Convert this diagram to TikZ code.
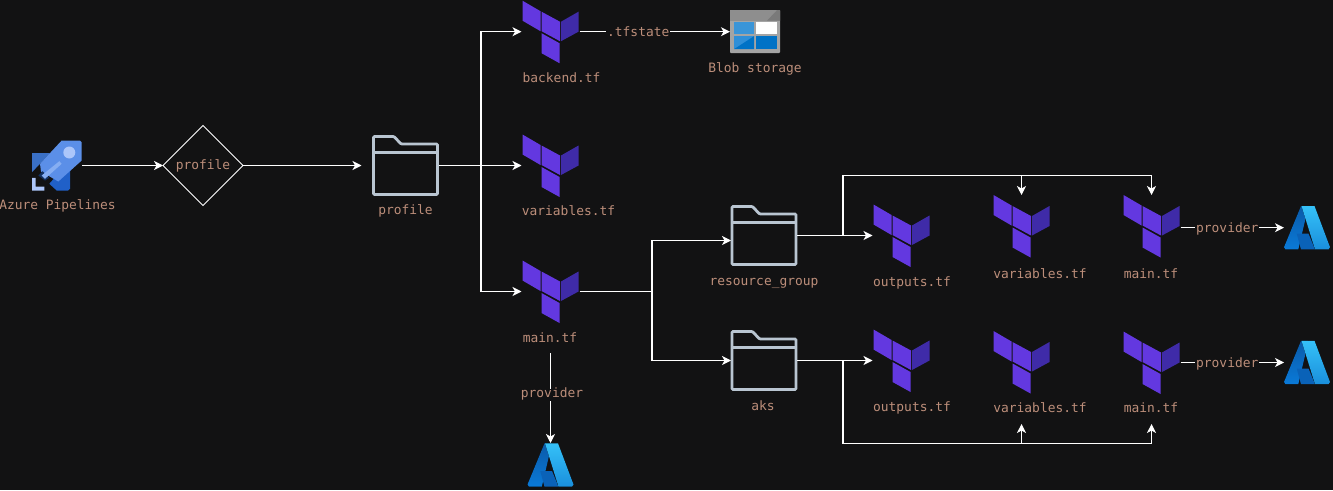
\documentclass[tikz,border=0pt]{standalone}
\usepackage{fontspec}
\setmonofont{DejaVu Sans Mono}
\usetikzlibrary{arrows.meta, shapes.geometric}
\definecolor{bgcol}{HTML}{121213}
\definecolor{txtcol}{HTML}{BC8E7A}
\definecolor{tfpurple}{HTML}{6338E0}
\definecolor{tfdark}{HTML}{3F2BA8}
\definecolor{foldercol}{HTML}{B9C5D1}
\definecolor{azdarktop}{HTML}{0A5AA8}
\definecolor{azdarkbot}{HTML}{0A7AD8}
\definecolor{azmid}{HTML}{0A62B8}
\definecolor{azlighttop}{HTML}{35C1F8}
\definecolor{azlightbot}{HTML}{1A8FDC}
\definecolor{rockwinga}{HTML}{3A70C6}
\definecolor{rockwingb}{HTML}{2060C8}
\definecolor{rockbody}{HTML}{5B8FE8}
\definecolor{rockstripe}{HTML}{86AEF2}
\definecolor{rockpale}{HTML}{ACC6FA}
\definecolor{rocknozzle}{HTML}{12305F}
\definecolor{blobedge}{HTML}{A4A4A4}
\definecolor{blobbar}{HTML}{8E8E8E}
\definecolor{blobcorner}{HTML}{7A7A7A}
\definecolor{blobcella}{HTML}{3A95D8}
\definecolor{blobcellb}{HTML}{2F8FD8}
\definecolor{blobcellc}{HTML}{0072C6}
\tikzset{iconbox/.style={inner sep=0pt,outer sep=0pt},
         lbl/.style={text=txtcol,font=\ttfamily\fontsize{12.9}{14}\selectfont,inner sep=0pt,text height=9pt,text depth=3pt},
         flow/.style={draw=white,line width=1.1pt,-{Stealth[length=9pt,width=9pt,inset=2.5pt]}},
         plain/.style={draw=white,line width=1.1pt},
         edgelbl/.style={lbl,fill=bgcol,inner xsep=1pt},
         tficon/.pic={
           \node[iconbox,minimum width=58pt,minimum height=62pt](-box)at(0,0){};
           \fill[tfpurple](-28,-31)--(-10,-20.5)--(-10,-0.5)--(-28,-11)--cycle;
           \fill[tfpurple](-9,-20)--(9.5,-10)--(9.5,9.5)--(-9,-0.5)--cycle;
           \fill[tfdark](10.5,-10)--(28,-20)--(28,0)--(10.5,9.5)--cycle;
           \fill[tfpurple](-9,1.5)--(9,11.5)--(9,31.5)--(-9,21.5)--cycle;
         },
         foldericon/.pic={
           \node[iconbox,minimum width=66pt,minimum height=60pt](-box)at(0,0){};
           \draw[foldercol,line width=2.8pt,rounded corners=1pt](-32,-29)--(-11.5,-29)--(-4.5,-21.5)--(32,-21.5)--(32,29)--(-32,29)--cycle;
           \draw[foldercol,line width=2.4pt](-32,-13)--(32,-13);
         },
         azureicon/.pic={
           \node[iconbox,minimum width=46pt,minimum height=44pt](-box)at(0,0){};
           \fill[top color=azdarktop,bottom color=azdarkbot](-6,-21.7)--(1.5,-21.7)--(-8.7,21.7)--(-21.5,21.7)--(-23,19.5)--cycle;
           \fill[azmid](-10.3,6)--(1.5,6)--(8,21.7)--(-6,21.7)--cycle;
           \fill[top color=azlighttop,bottom color=azlightbot](-5.5,-21.7)--(7.5,-21.7)--(23,19.5)--(21.5,21.7)--(8,21.7)--cycle;
         },
         rocketicon/.pic={
           \node[iconbox,minimum width=50pt,minimum height=50pt](-box)at(0,0){};
           \fill[rockwinga](-25,-12.3)--(-7,-12.3)--(-25,6.7)--cycle;
           \fill[rockwingb](13,-5)--(13,23.3)--(11,25)--(-0.3,25)--(-7.7,18.3)--cycle;
           \fill[rockbody](24.7,-23.3)--(23,-25)--(4.7,-25)--(-17,-1.7)--(-16,6)--(1.3,16)--(24.7,-5)--cycle;
           \fill[rocknozzle](-14.3,5.7)--(-18.7,10)--(-12,15)--(-7.7,12.3)--cycle;
           \fill[rockstripe](2.3,-4.3)--(4.7,-1.7)--(-12,13.3)--(-15.3,10)--cycle;
           \fill[rockpale](12.3,-13)circle(6pt);
           \fill[rockpale](-25,12.3)--(-21.3,12.3)--(-21.3,21)--(-12.7,21)--(-12.7,25)--(-25,25)--cycle;
         },
         bloboicon/.pic={
           \node[iconbox,minimum width=50pt,minimum height=43pt](-box)at(0,0){};
           \fill[blobedge,rounded corners=1pt](-25,-21.5)rectangle(25,21.5);
           \fill[blobbar](-25,-21.5)rectangle(25,-11);
           \fill[blobcorner](12,-11)--(22,-21.5)--(25,-21.5)--(25,-11)--cycle;
           \fill[blobcella](-21,-9.5)rectangle(-1,2.5);
           \fill[white](0.7,-9.5)rectangle(21.7,2.5);
           \fill[blobcellb](-21,4.5)rectangle(-1,17.5);
           \fill[blobcellc](-21,17.5)--(-1,4.5)--(-1,17.5)--cycle;
           \fill[blobcellc](0.7,4.5)rectangle(21.7,17.5);
         }}
\begin{document}
\begin{tikzpicture}[x=1pt,y=-1pt]
        \fill[bgcol](0,0)rectangle(1333,490);
        \useasboundingbox(0,0)rectangle(1333,490);
        % left side
        \pic(rocket)at(57,165.5){rocketicon};
        \node[lbl](rocketlbl)at(57.5,206){Azure Pipelines};
        \node[diamond,draw=white,line width=0.8pt,minimum width=80pt,minimum height=80pt,inner sep=0pt,outer sep=0pt,lbl](gate)at(203,165.5){\raisebox{-1pt}{profile}};
        \pic(profile)at(405.5,165.5){foldericon};
        \node[lbl](profilelbl)at(405.5,211.5){profile};
        % first column
        \pic(backend)at(550.5,31.7){tficon};
        \node[lbl](backendlbl)at(561.5,79){backend.tf};
        \pic(blob)at(755,31.7){bloboicon};
        \node[lbl](bloblbl)at(755,69){Blob storage};
        \pic(vars)at(550.5,165.5){tficon};
        \node[lbl](varslbl)at(568.5,212){variables.tf};
        \pic(main)at(550.5,291.5){tficon};
        \node[lbl](mainlbl)at(550,339){main.tf};
        \pic(azmain)at(550.5,465){azureicon};
        % resource group row
        \pic(rg)at(764,235.5){foldericon};
        \node[lbl](rglbl)at(764,282){resource\_group};
        \pic(rgout)at(901.5,235.5){tficon};
        \node[lbl](rgoutlbl)at(912,283){outputs.tf};
        \pic(rgvars)at(1021.5,226){tficon};
        \node[lbl](rgvarslbl)at(1040,275){variables.tf};
        \pic(rgmain)at(1151.5,226){tficon};
        \node[lbl](rgmainlbl)at(1151,275){main.tf};
        \pic(azrg)at(1307,227.7){azureicon};
        % aks row
        \pic(aks)at(764,360.5){foldericon};
        \node[lbl](akslbl)at(763,407){aks};
        \pic(aksout)at(901.5,360.5){tficon};
        \node[lbl](aksoutlbl)at(912,408){outputs.tf};
        \pic(aksvars)at(1021.5,362){tficon};
        \node[lbl](aksvarslbl)at(1040,409){variables.tf};
        \pic(aksmain)at(1151.5,362.5){tficon};
        \node[lbl](aksmainlbl)at(1151,409){main.tf};
        \pic(azaks)at(1307,362.5){azureicon};
        % junctions
        \coordinate(busa)at(481,165.5);
        \coordinate(busb)at(652,291.5);
        \coordinate(topa)at(843,175.5);
        \coordinate(topb)at(1021.5,175.5);
        \coordinate(topc)at(1151.5,175.5);
        \coordinate(topd)at(843,235.5);
        \coordinate(bota)at(843,443.5);
        \coordinate(botb)at(1021.5,443.5);
        \coordinate(botc)at(1151.5,443.5);
        \coordinate(botd)at(843,360.5);
        \coordinate(mainout)at(550.5,353);
        \coordinate(aksvarsin)at(1021.5,424);
        \coordinate(aksmainin)at(1151.5,424);
        % connectors
        \draw[flow](rocket-box.east)--(gate.west);
        \draw[flow,shorten >=11pt](gate.east)--(profile-box.west);
        \draw[flow](profile-box.east)--(busa)|-(backend-box.west);
        \draw[flow](profile-box.east)--(vars-box.west);
        \draw[flow](busa)|-(main-box.west);
        \draw[flow](backend-box.east)--(blob-box.west)node[edgelbl,midway,xshift=-16.5pt,yshift=-2pt]{.tfstate};
        \draw[flow](mainout)--(azmain-box.north)node[edgelbl,pos=0.45,xshift=1.5pt,yshift=-1pt]{provider};
        \draw[plain](main-box.east)--(busb);
        \draw[flow](busb)|-([yshift=-5pt]rg-box.west);
        \draw[flow](busb)|-(aks-box.west);
        \draw[flow](rg-box.east)--(rgout-box.west);
        \draw[plain](topd)--(topa)--(topc);
        \draw[flow](topb)--(rgvars-box.north);
        \draw[flow](topc)--(rgmain-box.north);
        \draw[flow](rgmain-box.east|-azrg-box.west)--(azrg-box.west)node[edgelbl,midway,xshift=-5pt,yshift=-2pt]{provider};
        \draw[flow](aks-box.east)--(aksout-box.west);
        \draw[plain](botd)--(bota)--(botc);
        \draw[flow](botb)--(aksvarsin);
        \draw[flow](botc)--(aksmainin);
        \draw[flow](aksmain-box.east)--(azaks-box.west)node[edgelbl,midway,xshift=-5pt,yshift=-2pt]{provider};
    \end{tikzpicture}
\end{document}
